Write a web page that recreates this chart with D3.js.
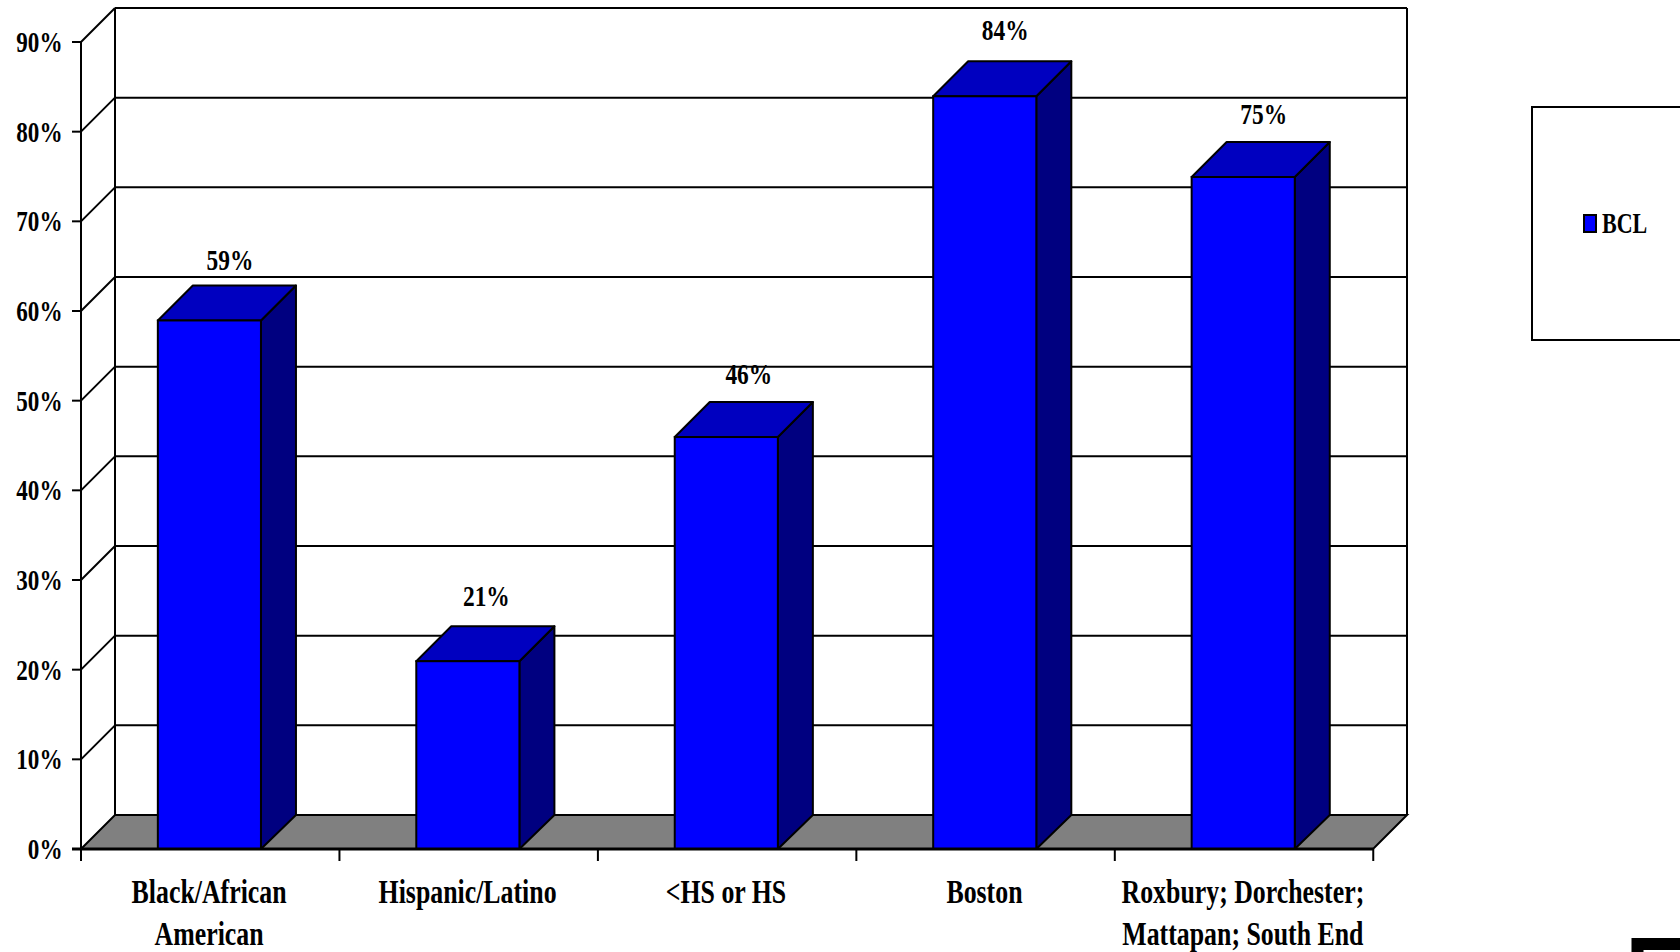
<!DOCTYPE html>
<html>
<head>
<meta charset="utf-8">
<style>
  html, body { margin: 0; padding: 0; background: #fff; }
  svg { display: block; }
  text { font-family: "Liberation Serif", serif; font-weight: bold; fill: #000; }
</style>
<script src="https://cdn.jsdelivr.net/npm/d3@7/dist/d3.min.js"></script>
</head>
<body>
<svg id="chart" width="1680" height="952"></svg>
<script>
const categories = ["Black/African American", "Hispanic/Latino", "<HS or HS", "Boston", "Roxbury; Dorchester; Mattapan; South End"];
const categoryLines = [["Black/African", "American"], ["Hispanic/Latino"], ["<HS or HS"], ["Boston"], ["Roxbury; Dorchester;", "Mattapan; South End"]];
const values = [59, 21, 46, 84, 75];
const yTicks = [0, 10, 20, 30, 40, 50, 60, 70, 80, 90];
const seriesName = "BCL";

const depth = 34;
const barDepth = 35;
const svg = d3.select("#chart");

const x = d3.scaleBand().domain(categories).range([81, 1373]).paddingInner(0.601).paddingOuter(0.3);
const y = d3.scaleLinear().domain([0, 90]).range([849, 42]);

// Text is narrowed horizontally, so each label gets its own scaled anchor group.
function label(parent, px, py, str, size, anchor, squeeze = 0.76) {
  return parent.append("text")
    .attr("transform", `translate(${px},${py}) scale(${squeeze},1)`)
    .attr("font-size", size)
    .attr("text-anchor", anchor)
    .text(str);
}

function strokeLine(parent, x1, y1, x2, y2, w) {
  return parent.append("line")
    .attr("x1", x1).attr("y1", y1).attr("x2", x2).attr("y2", y2)
    .attr("stroke", "#000").attr("stroke-width", w);
}

const x0 = x.range()[0], x1 = x.range()[1];
const yBase = y(0), yTop = y(90);

// Floor of the 3D plot box
svg.append("path")
  .attr("d", d3.line()([[x0, yBase], [x0 + depth, yBase - depth], [x1 + depth, yBase - depth], [x1, yBase]]) + "Z")
  .attr("fill", "#808080").attr("stroke", "#000").attr("stroke-width", 2);

// Back and side walls with their gridlines
const grid = svg.append("g");
yTicks.forEach(t => {
  const yy = y(t);
  if (t > 0) strokeLine(grid, x0 + depth, yy - depth, x1 + depth, yy - depth, 2);
  if (t > 0) strokeLine(grid, x0, yy, x0 + depth, yy - depth, 2);
  strokeLine(grid, x0 - 9, yy, x0, yy, 2);
  label(grid, 62.5, yy + 10, t + "%", 30, "end", 0.77);
});
strokeLine(grid, x0 + depth, yBase - depth, x0 + depth, yTop - depth, 2);
strokeLine(grid, x1 + depth, yBase - depth, x1 + depth, yTop - depth, 2);
strokeLine(grid, x0, yBase, x0, yTop, 2);

// Bars: front, right side and top faces, each with its value label above
const valueLift = [15, 20, 18, 21, 18];
const valueShift = [0, -2, 2, 0, 0];
const bars = svg.append("g").selectAll("g").data(categories).join("g");
bars.each(function (c, i) {
  const g = d3.select(this);
  const l = x(c) - 0.7, r = l + x.bandwidth(), t = y(values[i]) + 0.5;
  g.append("path")
    .attr("d", d3.line()([[r, yBase], [r + barDepth, yBase - depth], [r + barDepth, t - barDepth], [r, t]]) + "Z")
    .attr("fill", "#000080").attr("stroke", "#000").attr("stroke-width", 2).attr("stroke-linejoin", "round");
  g.append("path")
    .attr("d", d3.line()([[l, t], [l + barDepth, t - barDepth], [r + barDepth, t - barDepth], [r, t]]) + "Z")
    .attr("fill", "#0000C0").attr("stroke", "#000").attr("stroke-width", 2).attr("stroke-linejoin", "round");
  g.append("rect")
    .attr("x", l).attr("y", t).attr("width", x.bandwidth()).attr("height", yBase - t)
    .attr("fill", "#0000FF").attr("stroke", "#000").attr("stroke-width", 2);
  label(g, l + x.bandwidth() / 2 + 20.5 + valueShift[i], t - barDepth - valueLift[i], values[i] + "%", 30, "middle", 0.78);
});

// Front edge of the floor and category ticks
strokeLine(svg, x0 - 9, yBase, x1, yBase, 3);
const step = x.step();
d3.range(categories.length + 1).forEach(i => {
  strokeLine(svg, x0 + step * i, yBase, x0 + step * i, yBase + 12, 2);
});

// Category labels, wrapped on up to two lines
categories.forEach((c, i) => {
  categoryLines[i].forEach((ln, j) => {
    label(svg, x(c) + x.bandwidth() / 2 - 1, 902.5 + j * 42, ln, 34, "middle");
  });
});

// Legend box, running off the right edge
svg.append("rect")
  .attr("x", 1532).attr("y", 107).attr("width", 160).attr("height", 233)
  .attr("fill", "#fff").attr("stroke", "#000").attr("stroke-width", 2);
svg.append("rect")
  .attr("x", 1584).attr("y", 215).attr("width", 12).attr("height", 17)
  .attr("fill", "#0000FF").attr("stroke", "#000").attr("stroke-width", 2);
label(svg, 1602, 233, seriesName, 29, "start");

// Corner fragment at the bottom right
svg.append("path")
  .attr("d", "M1637.5,952V944H1680")
  .attr("fill", "none").attr("stroke", "#000").attr("stroke-width", 12);
</script>
</body>
</html>
